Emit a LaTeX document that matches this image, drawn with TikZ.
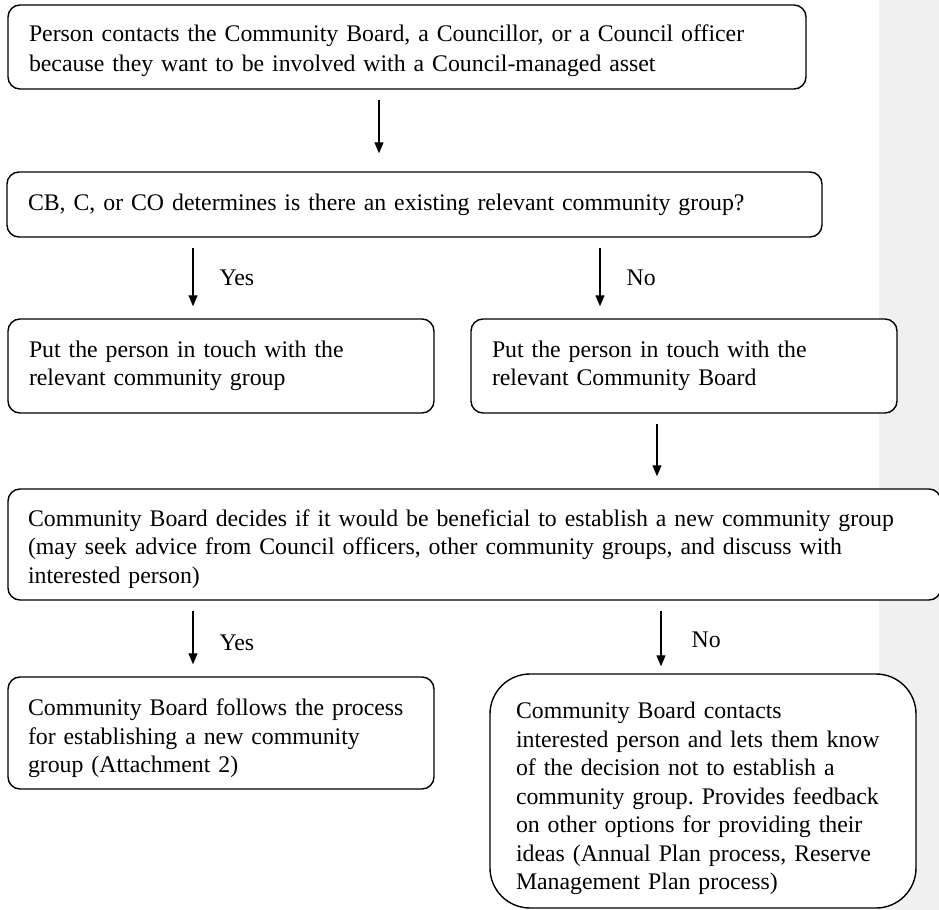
\documentclass[tikz,border=0pt]{standalone}
\usepackage{fontspec}
\setmainfont{Liberation Serif}
\usetikzlibrary{positioning,arrows.meta}
\definecolor{marginbg}{RGB}{240,240,240}
\frenchspacing
\hyphenpenalty=10000
\exhyphenpenalty=10000

\begin{document}
\begin{tikzpicture}[x=0.5pt, y=-0.5pt,
  stepbox/.style={draw, line width=0.7pt, rounded corners=6pt, fill=white, align=left, inner xsep=10.5pt, font=\fontsize{11.9}{14.25}\selectfont},
  textdrop/.style={execute at begin node={\rule{0pt}{#1}}},
  arrow/.style={-{Triangle[length=5.5pt, width=4.5pt]}, line width=0.6pt, shorten <=5pt, shorten >=6pt},
  answer/.style={font=\fontsize{11.9}{14.25}\selectfont, inner sep=0pt, right=13pt}
]
  \fill[marginbg] (879,0) rectangle (939,910);
  \useasboundingbox (0,0) rectangle (939,910);

  \node[stepbox, textdrop=12pt, minimum width=399pt, minimum height=42pt, text width=378pt] (contact) at (407,47) {Person contacts the Community Board, a Councillor, or a Council officer\\[0.8pt]because they want to be involved with a Council-managed asset};
  \node[stepbox, minimum width=407.5pt, minimum height=32.5pt, text width=386.5pt] (check) at (414.5,204.5) {CB, C, or CO determines is there an existing relevant community group?\vphantom{g}\\[-2pt]};
  \node[stepbox, minimum width=213pt, minimum height=47pt, text width=192pt] (group) at (221,366) {Put the person in touch with the\\relevant community group};
  \node[stepbox, minimum width=213pt, minimum height=47pt, text width=192pt] (board) at (684,366) {Put the person in touch with the\\relevant Community Board};
  \node[stepbox, textdrop=13pt, inner xsep=10pt, minimum width=466.5pt, minimum height=55.5pt, text width=446.5pt] (decide) at (474.5,544.5) {Community Board decides if it would be beneficial to establish a new community group\\(may seek advice from Council officers, other community groups, and discuss with\\interested person)};
  \node[stepbox, textdrop=14pt, inner xsep=10pt, minimum width=213pt, minimum height=56pt, text width=193pt] (follow) at (221,733) {Community Board follows the process\\for establishing a new community\\group (Attachment 2)};
  \node[stepbox, textdrop=16pt, rounded corners=20pt, inner xsep=13pt, minimum width=213pt, minimum height=117pt, text width=187pt] (inform) at (703,791) {Community Board contacts\\interested person and lets them know\\of the decision not to establish a\\community group. Provides feedback\\on other options for providing their\\ideas (Annual Plan process, Reserve\\Management Plan process)};

  \coordinate (colmain) at (379,0);
  \coordinate (colyes) at (193,0);
  \coordinate (colno) at (600,0);
  \coordinate (colboard) at (657,0);
  \coordinate (colnotwo) at (661,0);

  \draw[arrow, shorten >=9pt] (contact.south -| colmain) -- (check.north -| colmain);
  \draw[arrow] (check.south -| colyes) -- (group.north -| colyes) node[answer, midway] {Yes};
  \draw[arrow] (check.south -| colno) -- (board.north -| colno) node[answer, midway] {No};
  \draw[arrow] (board.south -| colboard) -- (decide.north -| colboard);
  \draw[arrow] (decide.south -| colyes) -- (follow.north -| colyes) node[answer, midway, yshift=-2pt] {Yes};
  \draw[arrow, shorten >=3.5pt] (decide.south -| colnotwo) -- (inform.north -| colnotwo) node[answer, midway, xshift=2pt, yshift=-1.5pt] {No};
\end{tikzpicture}
\end{document}
